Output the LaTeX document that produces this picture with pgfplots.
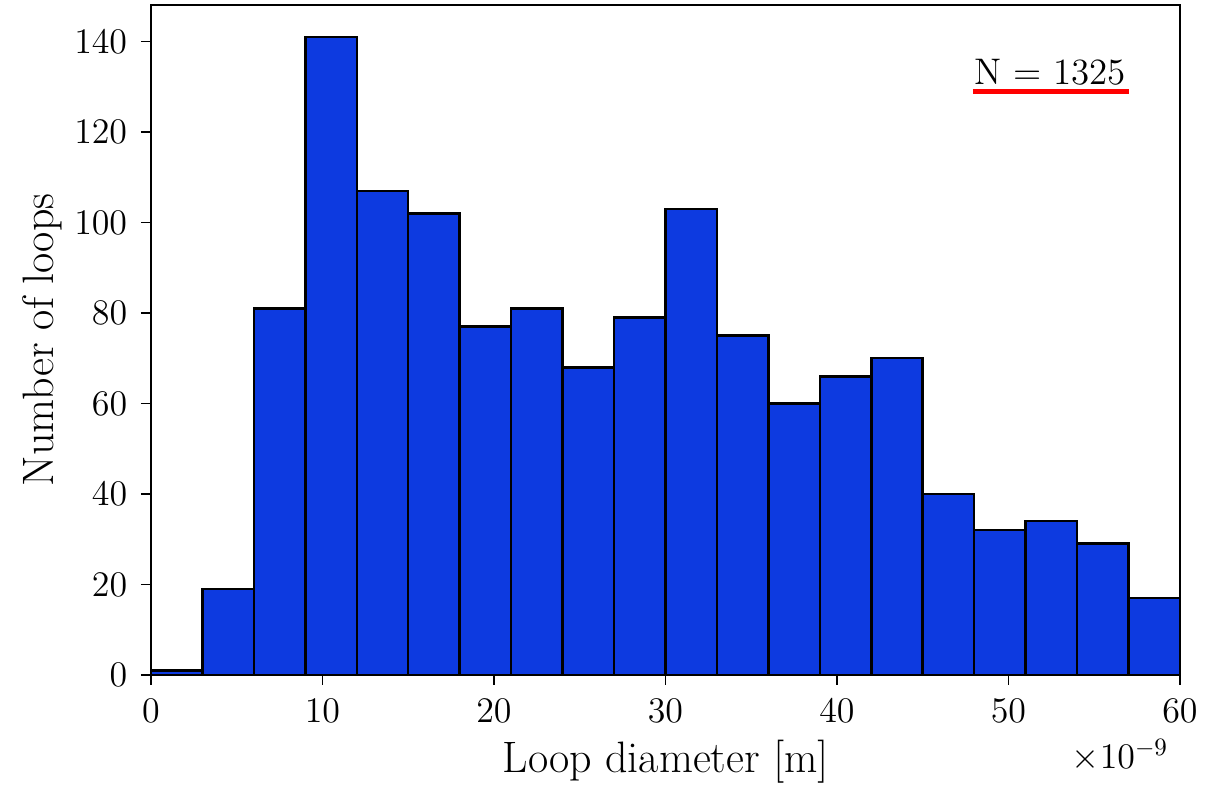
\documentclass[border=0pt]{standalone}
\usepackage{pgfplots}
\pgfplotsset{compat=1.18}
\definecolor{barblue}{RGB}{13,58,224}
\begin{document}
\begin{tikzpicture}
\useasboundingbox (-60.4pt,-44.8pt) rectangle (428pt,270pt);
\begin{axis}[
  at={(0,0)}, anchor=south west,
  scale only axis, width=411.6pt, height=268pt,
  xmin=0, xmax=60, ymin=0, ymax=148.05,
  xtick={0,10,...,60}, ytick={0,20,...,140},
  tick align=outside, tick pos=left,
  major tick length=4pt,
  tick style={black, line width=0.7pt},
  axis line style={line width=0.7pt},
  tick label style={font=\fontsize{14.8}{17}\selectfont},
  label style={font=\fontsize{17.6}{20}\selectfont},
  xlabel={Loop diameter $[\mathrm{m}]$},
  ylabel={Number of loops},
  xlabel style={at={(axis description cs:0.5,0)}, anchor=base, yshift=-39pt},
  ylabel style={at={(-43.6pt,134pt)}, anchor=center},
  x tick label style={yshift=-2pt},
  y tick label style={xshift=-2pt},
  clip=false,
]
\addplot[ybar interval, fill=barblue, draw=black, line width=1pt] coordinates {
(0,1) (3,19) (6,81) (9,141) (12,107) (15,102) (18,77) (21,81) (24,68) (27,79)
(30,103) (33,75) (36,60) (39,66) (42,70) (45,40) (48,32) (51,34) (54,29) (57,17) (60,17)
};
\node[font=\fontsize{14.8}{17}\selectfont, anchor=center] at (rel axis cs:0.8737,0.9) {N = 1325};
\draw[red, line width=2pt] (rel axis cs:0.7988,0.8716) -- (rel axis cs:0.9504,0.8716);
\node[font=\fontsize{14.8}{17}\selectfont, anchor=center] at (rel axis cs:0.9417,-0.1194) {$\times10^{-9}$};
\end{axis}
\end{tikzpicture}
\end{document}
